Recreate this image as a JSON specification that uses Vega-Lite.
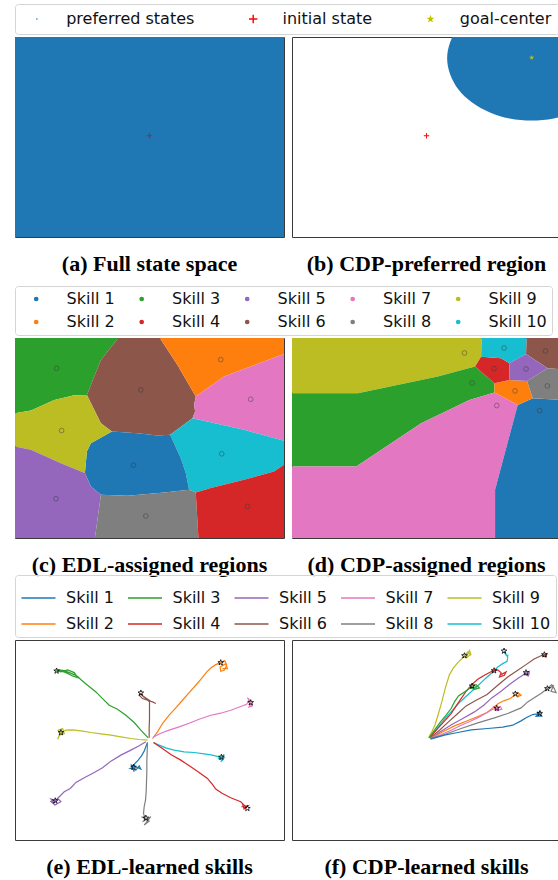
{
"$schema": "https://vega.github.io/schema/vega-lite/v6.json",
"padding": {"left": 14, "top": 3, "right": 0, "bottom": 0},
"background": "white",
"config": {
  "view": {"stroke": "#3a3a3a", "strokeWidth": 1},
  "legend": {"orient": "top", "labelFont": "DejaVu Sans", "labelFontSize": 16, "labelColor": "#111111", "strokeColor": "#d4d4d4", "cornerRadius": 3, "offset": 2},
  "title": {"orient": "bottom", "font": "Liberation Serif", "fontSize": 22, "fontWeight": "bold", "color": "black", "offset": 17, "anchor": "middle"}
},
"resolve": {"scale": {"color": "independent", "shape": "independent"}, "legend": {"color": "independent", "shape": "independent"}},
"spacing": 9,
"datasets": {
  "region_a": [{"x":12,"y":14},{"x":820,"y":14},{"x":820,"y":615},{"x":12,"y":615}],
  "marks_a": [{"kind":"initial state","x":416,"y":311}],
  "region_b": [{"x":986,"y":78},{"x":977,"y":126},{"x":952,"y":172},{"x":912,"y":210},{"x":859,"y":240},{"x":798,"y":259},{"x":732,"y":265},{"x":666,"y":259},{"x":605,"y":240},{"x":552,"y":210},{"x":512,"y":172},{"x":487,"y":126},{"x":478,"y":78},{"x":487,"y":30},{"x":512,"y":-16},{"x":552,"y":-54},{"x":605,"y":-84},{"x":666,"y":-103},{"x":732,"y":-109},{"x":798,"y":-103},{"x":859,"y":-84},{"x":912,"y":-54},{"x":952,"y":-16},{"x":977,"y":30}],
  "marks_b": [{"kind":"initial state","x":416,"y":311},{"kind":"goal-center","x":732,"y":76}],
  "voronoi_c": [
    {"skill":"Skill 3","x":12,"y":14},{"skill":"Skill 3","x":322,"y":14},{"skill":"Skill 3","x":270,"y":80},{"skill":"Skill 3","x":250,"y":130},{"skill":"Skill 3","x":228,"y":185},{"skill":"Skill 3","x":190,"y":186},{"skill":"Skill 3","x":130,"y":200},{"skill":"Skill 3","x":60,"y":232},{"skill":"Skill 3","x":12,"y":240},
    {"skill":"Skill 6","x":322,"y":14},{"skill":"Skill 6","x":447,"y":14},{"skill":"Skill 6","x":500,"y":95},{"skill":"Skill 6","x":555,"y":190},{"skill":"Skill 6","x":550,"y":215},{"skill":"Skill 6","x":553,"y":235},{"skill":"Skill 6","x":545,"y":255},{"skill":"Skill 6","x":478,"y":305},{"skill":"Skill 6","x":440,"y":307},{"skill":"Skill 6","x":380,"y":300},{"skill":"Skill 6","x":303,"y":295},{"skill":"Skill 6","x":270,"y":270},{"skill":"Skill 6","x":228,"y":185},{"skill":"Skill 6","x":250,"y":130},{"skill":"Skill 6","x":270,"y":80},
    {"skill":"Skill 2","x":447,"y":14},{"skill":"Skill 2","x":820,"y":14},{"skill":"Skill 2","x":820,"y":62},{"skill":"Skill 2","x":720,"y":100},{"skill":"Skill 2","x":640,"y":130},{"skill":"Skill 2","x":555,"y":190},{"skill":"Skill 2","x":500,"y":95},
    {"skill":"Skill 7","x":555,"y":190},{"skill":"Skill 7","x":640,"y":130},{"skill":"Skill 7","x":720,"y":100},{"skill":"Skill 7","x":820,"y":62},{"skill":"Skill 7","x":820,"y":323},{"skill":"Skill 7","x":700,"y":290},{"skill":"Skill 7","x":545,"y":255},{"skill":"Skill 7","x":553,"y":235},{"skill":"Skill 7","x":550,"y":215},
    {"skill":"Skill 10","x":545,"y":255},{"skill":"Skill 10","x":700,"y":290},{"skill":"Skill 10","x":820,"y":323},{"skill":"Skill 10","x":820,"y":395},{"skill":"Skill 10","x":790,"y":415},{"skill":"Skill 10","x":700,"y":440},{"skill":"Skill 10","x":600,"y":465},{"skill":"Skill 10","x":555,"y":478},{"skill":"Skill 10","x":535,"y":470},{"skill":"Skill 10","x":525,"y":420},{"skill":"Skill 10","x":510,"y":375},{"skill":"Skill 10","x":478,"y":305},
    {"skill":"Skill 1","x":303,"y":295},{"skill":"Skill 1","x":380,"y":300},{"skill":"Skill 1","x":440,"y":307},{"skill":"Skill 1","x":478,"y":305},{"skill":"Skill 1","x":510,"y":375},{"skill":"Skill 1","x":525,"y":420},{"skill":"Skill 1","x":535,"y":470},{"skill":"Skill 1","x":460,"y":478},{"skill":"Skill 1","x":350,"y":488},{"skill":"Skill 1","x":270,"y":485},{"skill":"Skill 1","x":240,"y":460},{"skill":"Skill 1","x":222,"y":420},{"skill":"Skill 1","x":228,"y":355},{"skill":"Skill 1","x":240,"y":330},
    {"skill":"Skill 9","x":12,"y":240},{"skill":"Skill 9","x":60,"y":232},{"skill":"Skill 9","x":130,"y":200},{"skill":"Skill 9","x":190,"y":186},{"skill":"Skill 9","x":228,"y":185},{"skill":"Skill 9","x":270,"y":270},{"skill":"Skill 9","x":303,"y":295},{"skill":"Skill 9","x":240,"y":330},{"skill":"Skill 9","x":228,"y":355},{"skill":"Skill 9","x":222,"y":420},{"skill":"Skill 9","x":150,"y":390},{"skill":"Skill 9","x":60,"y":350},{"skill":"Skill 9","x":12,"y":340},
    {"skill":"Skill 5","x":12,"y":340},{"skill":"Skill 5","x":60,"y":350},{"skill":"Skill 5","x":150,"y":390},{"skill":"Skill 5","x":222,"y":420},{"skill":"Skill 5","x":240,"y":460},{"skill":"Skill 5","x":270,"y":485},{"skill":"Skill 5","x":252,"y":615},{"skill":"Skill 5","x":12,"y":615},
    {"skill":"Skill 8","x":270,"y":485},{"skill":"Skill 8","x":350,"y":488},{"skill":"Skill 8","x":460,"y":478},{"skill":"Skill 8","x":535,"y":470},{"skill":"Skill 8","x":555,"y":478},{"skill":"Skill 8","x":563,"y":615},{"skill":"Skill 8","x":252,"y":615},
    {"skill":"Skill 4","x":555,"y":478},{"skill":"Skill 4","x":600,"y":465},{"skill":"Skill 4","x":700,"y":440},{"skill":"Skill 4","x":790,"y":415},{"skill":"Skill 4","x":820,"y":395},{"skill":"Skill 4","x":820,"y":615},{"skill":"Skill 4","x":563,"y":615}
  ],
  "centers_c": [{"skill":"Skill 1","x":368,"y":396},{"skill":"Skill 2","x":630,"y":79},{"skill":"Skill 3","x":137,"y":105},{"skill":"Skill 4","x":710,"y":520},{"skill":"Skill 5","x":135,"y":497},{"skill":"Skill 6","x":390,"y":170},{"skill":"Skill 7","x":720,"y":198},{"skill":"Skill 8","x":405,"y":549},{"skill":"Skill 9","x":152,"y":292},{"skill":"Skill 10","x":633,"y":362}],
  "voronoi_d": [
    {"skill":"Skill 9","x":12,"y":14},{"skill":"Skill 9","x":582,"y":14},{"skill":"Skill 9","x":580,"y":70},{"skill":"Skill 9","x":562,"y":100},{"skill":"Skill 9","x":450,"y":130},{"skill":"Skill 9","x":210,"y":180},{"skill":"Skill 9","x":12,"y":180},
    {"skill":"Skill 3","x":12,"y":180},{"skill":"Skill 3","x":210,"y":180},{"skill":"Skill 3","x":450,"y":130},{"skill":"Skill 3","x":562,"y":100},{"skill":"Skill 3","x":620,"y":150},{"skill":"Skill 3","x":620,"y":178},{"skill":"Skill 3","x":545,"y":200},{"skill":"Skill 3","x":400,"y":270},{"skill":"Skill 3","x":205,"y":400},{"skill":"Skill 3","x":12,"y":400},
    {"skill":"Skill 7","x":12,"y":400},{"skill":"Skill 7","x":205,"y":400},{"skill":"Skill 7","x":400,"y":270},{"skill":"Skill 7","x":545,"y":200},{"skill":"Skill 7","x":620,"y":178},{"skill":"Skill 7","x":690,"y":215},{"skill":"Skill 7","x":622,"y":470},{"skill":"Skill 7","x":622,"y":615},{"skill":"Skill 7","x":12,"y":615},
    {"skill":"Skill 1","x":690,"y":215},{"skill":"Skill 1","x":735,"y":195},{"skill":"Skill 1","x":820,"y":200},{"skill":"Skill 1","x":820,"y":615},{"skill":"Skill 1","x":622,"y":615},{"skill":"Skill 1","x":622,"y":470},
    {"skill":"Skill 2","x":620,"y":150},{"skill":"Skill 2","x":665,"y":140},{"skill":"Skill 2","x":718,"y":143},{"skill":"Skill 2","x":735,"y":195},{"skill":"Skill 2","x":690,"y":215},{"skill":"Skill 2","x":620,"y":178},
    {"skill":"Skill 4","x":562,"y":100},{"skill":"Skill 4","x":580,"y":70},{"skill":"Skill 4","x":640,"y":75},{"skill":"Skill 4","x":665,"y":90},{"skill":"Skill 4","x":665,"y":140},{"skill":"Skill 4","x":620,"y":150},
    {"skill":"Skill 10","x":582,"y":14},{"skill":"Skill 10","x":717,"y":14},{"skill":"Skill 10","x":715,"y":62},{"skill":"Skill 10","x":665,"y":90},{"skill":"Skill 10","x":640,"y":75},{"skill":"Skill 10","x":580,"y":70},
    {"skill":"Skill 6","x":717,"y":14},{"skill":"Skill 6","x":820,"y":14},{"skill":"Skill 6","x":820,"y":108},{"skill":"Skill 6","x":780,"y":105},{"skill":"Skill 6","x":715,"y":62},
    {"skill":"Skill 5","x":665,"y":90},{"skill":"Skill 5","x":715,"y":62},{"skill":"Skill 5","x":780,"y":105},{"skill":"Skill 5","x":718,"y":143},{"skill":"Skill 5","x":665,"y":140},
    {"skill":"Skill 8","x":780,"y":105},{"skill":"Skill 8","x":820,"y":108},{"skill":"Skill 8","x":820,"y":200},{"skill":"Skill 8","x":735,"y":195},{"skill":"Skill 8","x":718,"y":143}
  ],
  "centers_d": [{"skill":"Skill 9","x":530,"y":59},{"skill":"Skill 10","x":649,"y":44},{"skill":"Skill 6","x":773,"y":53},{"skill":"Skill 4","x":619,"y":106},{"skill":"Skill 5","x":715,"y":107},{"skill":"Skill 3","x":553,"y":149},{"skill":"Skill 2","x":682,"y":173},{"skill":"Skill 8","x":779,"y":158},{"skill":"Skill 7","x":627,"y":217},{"skill":"Skill 1","x":756,"y":232}],
  "paths_e": [
    {"skill":"Skill 3","x":412,"y":308},{"skill":"Skill 3","x":390,"y":285},{"skill":"Skill 3","x":370,"y":262},{"skill":"Skill 3","x":345,"y":240},{"skill":"Skill 3","x":320,"y":222},{"skill":"Skill 3","x":295,"y":210},{"skill":"Skill 3","x":275,"y":190},{"skill":"Skill 3","x":255,"y":170},{"skill":"Skill 3","x":230,"y":150},{"skill":"Skill 3","x":212,"y":135},{"skill":"Skill 3","x":200,"y":124},{"skill":"Skill 3","x":190,"y":118},{"skill":"Skill 3","x":175,"y":112},{"skill":"Skill 3","x":160,"y":106},{"skill":"Skill 3","x":145,"y":104},{"skill":"Skill 3","x":137,"y":107},{"skill":"Skill 3","x":150,"y":110},{"skill":"Skill 3","x":170,"y":104},{"skill":"Skill 3","x":190,"y":112},{"skill":"Skill 3","x":200,"y":127},{"skill":"Skill 3","x":185,"y":122},{"skill":"Skill 3","x":165,"y":112},{"skill":"Skill 3","x":148,"y":106},
    {"skill":"Skill 6","x":415,"y":308},{"skill":"Skill 6","x":415,"y":280},{"skill":"Skill 6","x":416,"y":250},{"skill":"Skill 6","x":416,"y":220},{"skill":"Skill 6","x":416,"y":200},{"skill":"Skill 6","x":408,"y":192},{"skill":"Skill 6","x":398,"y":185},{"skill":"Skill 6","x":390,"y":175},{"skill":"Skill 6","x":385,"y":180},{"skill":"Skill 6","x":395,"y":190},{"skill":"Skill 6","x":410,"y":195},{"skill":"Skill 6","x":425,"y":200},{"skill":"Skill 6","x":435,"y":205},{"skill":"Skill 6","x":420,"y":198},{"skill":"Skill 6","x":405,"y":188},{"skill":"Skill 6","x":390,"y":178},
    {"skill":"Skill 2","x":425,"y":310},{"skill":"Skill 2","x":440,"y":290},{"skill":"Skill 2","x":455,"y":265},{"skill":"Skill 2","x":475,"y":240},{"skill":"Skill 2","x":495,"y":218},{"skill":"Skill 2","x":515,"y":195},{"skill":"Skill 2","x":535,"y":172},{"skill":"Skill 2","x":555,"y":150},{"skill":"Skill 2","x":572,"y":130},{"skill":"Skill 2","x":588,"y":110},{"skill":"Skill 2","x":600,"y":98},{"skill":"Skill 2","x":615,"y":88},{"skill":"Skill 2","x":630,"y":82},{"skill":"Skill 2","x":642,"y":76},{"skill":"Skill 2","x":648,"y":90},{"skill":"Skill 2","x":640,"y":105},{"skill":"Skill 2","x":630,"y":108},{"skill":"Skill 2","x":628,"y":95},{"skill":"Skill 2","x":645,"y":85},{"skill":"Skill 2","x":650,"y":100},{"skill":"Skill 2","x":635,"y":100},
    {"skill":"Skill 7","x":428,"y":305},{"skill":"Skill 7","x":450,"y":294},{"skill":"Skill 7","x":475,"y":285},{"skill":"Skill 7","x":505,"y":275},{"skill":"Skill 7","x":535,"y":264},{"skill":"Skill 7","x":565,"y":252},{"skill":"Skill 7","x":600,"y":240},{"skill":"Skill 7","x":630,"y":234},{"skill":"Skill 7","x":660,"y":225},{"skill":"Skill 7","x":690,"y":214},{"skill":"Skill 7","x":708,"y":207},{"skill":"Skill 7","x":715,"y":192},{"skill":"Skill 7","x":710,"y":188},{"skill":"Skill 7","x":720,"y":200},{"skill":"Skill 7","x":725,"y":212},{"skill":"Skill 7","x":715,"y":215},{"skill":"Skill 7","x":722,"y":203},
    {"skill":"Skill 9","x":410,"y":315},{"skill":"Skill 9","x":385,"y":313},{"skill":"Skill 9","x":360,"y":310},{"skill":"Skill 9","x":330,"y":305},{"skill":"Skill 9","x":300,"y":300},{"skill":"Skill 9","x":270,"y":296},{"skill":"Skill 9","x":240,"y":292},{"skill":"Skill 9","x":210,"y":287},{"skill":"Skill 9","x":185,"y":284},{"skill":"Skill 9","x":165,"y":285},{"skill":"Skill 9","x":150,"y":292},{"skill":"Skill 9","x":142,"y":285},{"skill":"Skill 9","x":155,"y":280},{"skill":"Skill 9","x":160,"y":295},{"skill":"Skill 9","x":145,"y":300},{"skill":"Skill 9","x":140,"y":312},{"skill":"Skill 9","x":148,"y":296},
    {"skill":"Skill 10","x":428,"y":322},{"skill":"Skill 10","x":445,"y":330},{"skill":"Skill 10","x":465,"y":338},{"skill":"Skill 10","x":490,"y":345},{"skill":"Skill 10","x":520,"y":350},{"skill":"Skill 10","x":550,"y":352},{"skill":"Skill 10","x":580,"y":356},{"skill":"Skill 10","x":605,"y":360},{"skill":"Skill 10","x":625,"y":365},{"skill":"Skill 10","x":632,"y":366},{"skill":"Skill 10","x":640,"y":358},{"skill":"Skill 10","x":635,"y":375},{"skill":"Skill 10","x":622,"y":370},{"skill":"Skill 10","x":640,"y":368},{"skill":"Skill 10","x":630,"y":380},
    {"skill":"Skill 1","x":410,"y":322},{"skill":"Skill 1","x":405,"y":335},{"skill":"Skill 1","x":400,"y":348},{"skill":"Skill 1","x":392,"y":362},{"skill":"Skill 1","x":382,"y":375},{"skill":"Skill 1","x":372,"y":385},{"skill":"Skill 1","x":368,"y":396},{"skill":"Skill 1","x":358,"y":400},{"skill":"Skill 1","x":375,"y":405},{"skill":"Skill 1","x":385,"y":392},{"skill":"Skill 1","x":390,"y":402},{"skill":"Skill 1","x":362,"y":390},{"skill":"Skill 1","x":370,"y":410},
    {"skill":"Skill 5","x":405,"y":320},{"skill":"Skill 5","x":385,"y":332},{"skill":"Skill 5","x":360,"y":345},{"skill":"Skill 5","x":330,"y":360},{"skill":"Skill 5","x":300,"y":378},{"skill":"Skill 5","x":275,"y":398},{"skill":"Skill 5","x":250,"y":412},{"skill":"Skill 5","x":220,"y":428},{"skill":"Skill 5","x":195,"y":442},{"skill":"Skill 5","x":178,"y":460},{"skill":"Skill 5","x":160,"y":470},{"skill":"Skill 5","x":145,"y":485},{"skill":"Skill 5","x":133,"y":497},{"skill":"Skill 5","x":120,"y":492},{"skill":"Skill 5","x":128,"y":505},{"skill":"Skill 5","x":140,"y":490},{"skill":"Skill 5","x":150,"y":500},{"skill":"Skill 5","x":132,"y":510},{"skill":"Skill 5","x":118,"y":498},
    {"skill":"Skill 8","x":410,"y":322},{"skill":"Skill 8","x":409,"y":350},{"skill":"Skill 8","x":408,"y":380},{"skill":"Skill 8","x":408,"y":410},{"skill":"Skill 8","x":407,"y":440},{"skill":"Skill 8","x":406,"y":470},{"skill":"Skill 8","x":404,"y":495},{"skill":"Skill 8","x":400,"y":515},{"skill":"Skill 8","x":398,"y":535},{"skill":"Skill 8","x":403,"y":550},{"skill":"Skill 8","x":392,"y":545},{"skill":"Skill 8","x":415,"y":558},{"skill":"Skill 8","x":400,"y":570},{"skill":"Skill 8","x":420,"y":545},{"skill":"Skill 8","x":395,"y":560},
    {"skill":"Skill 4","x":428,"y":322},{"skill":"Skill 4","x":455,"y":340},{"skill":"Skill 4","x":480,"y":358},{"skill":"Skill 4","x":510,"y":375},{"skill":"Skill 4","x":540,"y":395},{"skill":"Skill 4","x":565,"y":412},{"skill":"Skill 4","x":590,"y":430},{"skill":"Skill 4","x":605,"y":448},{"skill":"Skill 4","x":615,"y":462},{"skill":"Skill 4","x":635,"y":475},{"skill":"Skill 4","x":660,"y":488},{"skill":"Skill 4","x":690,"y":500},{"skill":"Skill 4","x":700,"y":510},{"skill":"Skill 4","x":708,"y":518},{"skill":"Skill 4","x":695,"y":505},{"skill":"Skill 4","x":700,"y":522},{"skill":"Skill 4","x":712,"y":512},{"skill":"Skill 4","x":692,"y":515}
  ],
  "goals_e": [{"skill":"Skill 3","x":137,"y":107},{"skill":"Skill 6","x":390,"y":173},{"skill":"Skill 2","x":630,"y":82},{"skill":"Skill 7","x":720,"y":202},{"skill":"Skill 9","x":150,"y":292},{"skill":"Skill 10","x":632,"y":366},{"skill":"Skill 1","x":368,"y":396},{"skill":"Skill 5","x":133,"y":497},{"skill":"Skill 8","x":405,"y":549},{"skill":"Skill 4","x":710,"y":520}],
  "paths_f": [
    {"skill":"Skill 9","x":422,"y":308},{"skill":"Skill 9","x":432,"y":290},{"skill":"Skill 9","x":442,"y":268},{"skill":"Skill 9","x":452,"y":235},{"skill":"Skill 9","x":462,"y":200},{"skill":"Skill 9","x":472,"y":160},{"skill":"Skill 9","x":485,"y":118},{"skill":"Skill 9","x":497,"y":98},{"skill":"Skill 9","x":510,"y":82},{"skill":"Skill 9","x":522,"y":70},{"skill":"Skill 9","x":530,"y":61},{"skill":"Skill 9","x":540,"y":50},{"skill":"Skill 9","x":548,"y":58},{"skill":"Skill 9","x":535,"y":68},{"skill":"Skill 9","x":545,"y":45},{"skill":"Skill 9","x":550,"y":60},
    {"skill":"Skill 10","x":426,"y":308},{"skill":"Skill 10","x":448,"y":280},{"skill":"Skill 10","x":470,"y":252},{"skill":"Skill 10","x":492,"y":228},{"skill":"Skill 10","x":512,"y":205},{"skill":"Skill 10","x":532,"y":186},{"skill":"Skill 10","x":552,"y":168},{"skill":"Skill 10","x":572,"y":150},{"skill":"Skill 10","x":595,"y":128},{"skill":"Skill 10","x":615,"y":110},{"skill":"Skill 10","x":630,"y":95},{"skill":"Skill 10","x":645,"y":85},{"skill":"Skill 10","x":658,"y":78},{"skill":"Skill 10","x":660,"y":65},{"skill":"Skill 10","x":652,"y":55},{"skill":"Skill 10","x":649,"y":47},{"skill":"Skill 10","x":658,"y":62},{"skill":"Skill 10","x":662,"y":58},
    {"skill":"Skill 4","x":426,"y":308},{"skill":"Skill 4","x":448,"y":282},{"skill":"Skill 4","x":470,"y":258},{"skill":"Skill 4","x":490,"y":235},{"skill":"Skill 4","x":505,"y":212},{"skill":"Skill 4","x":520,"y":190},{"skill":"Skill 4","x":535,"y":168},{"skill":"Skill 4","x":552,"y":148},{"skill":"Skill 4","x":570,"y":132},{"skill":"Skill 4","x":590,"y":120},{"skill":"Skill 4","x":608,"y":110},{"skill":"Skill 4","x":619,"y":106},{"skill":"Skill 4","x":630,"y":104},{"skill":"Skill 4","x":640,"y":112},{"skill":"Skill 4","x":635,"y":125},{"skill":"Skill 4","x":650,"y":120},{"skill":"Skill 4","x":655,"y":110},{"skill":"Skill 4","x":640,"y":118},
    {"skill":"Skill 3","x":424,"y":308},{"skill":"Skill 3","x":440,"y":285},{"skill":"Skill 3","x":458,"y":260},{"skill":"Skill 3","x":475,"y":240},{"skill":"Skill 3","x":490,"y":220},{"skill":"Skill 3","x":500,"y":200},{"skill":"Skill 3","x":512,"y":182},{"skill":"Skill 3","x":530,"y":170},{"skill":"Skill 3","x":545,"y":160},{"skill":"Skill 3","x":553,"y":152},{"skill":"Skill 3","x":565,"y":148},{"skill":"Skill 3","x":575,"y":158},{"skill":"Skill 3","x":560,"y":162},{"skill":"Skill 3","x":548,"y":158},{"skill":"Skill 3","x":568,"y":154},
    {"skill":"Skill 6","x":428,"y":308},{"skill":"Skill 6","x":455,"y":285},{"skill":"Skill 6","x":482,"y":260},{"skill":"Skill 6","x":510,"y":235},{"skill":"Skill 6","x":535,"y":212},{"skill":"Skill 6","x":565,"y":195},{"skill":"Skill 6","x":598,"y":178},{"skill":"Skill 6","x":630,"y":150},{"skill":"Skill 6","x":660,"y":125},{"skill":"Skill 6","x":690,"y":105},{"skill":"Skill 6","x":715,"y":88},{"skill":"Skill 6","x":738,"y":72},{"skill":"Skill 6","x":758,"y":62},{"skill":"Skill 6","x":770,"y":58},{"skill":"Skill 6","x":778,"y":55},{"skill":"Skill 6","x":775,"y":65},{"skill":"Skill 6","x":765,"y":62},
    {"skill":"Skill 5","x":428,"y":310},{"skill":"Skill 5","x":460,"y":288},{"skill":"Skill 5","x":492,"y":268},{"skill":"Skill 5","x":525,"y":250},{"skill":"Skill 5","x":560,"y":230},{"skill":"Skill 5","x":588,"y":210},{"skill":"Skill 5","x":612,"y":188},{"skill":"Skill 5","x":640,"y":168},{"skill":"Skill 5","x":665,"y":148},{"skill":"Skill 5","x":690,"y":130},{"skill":"Skill 5","x":705,"y":120},{"skill":"Skill 5","x":716,"y":110},{"skill":"Skill 5","x":725,"y":108},{"skill":"Skill 5","x":722,"y":122},{"skill":"Skill 5","x":712,"y":118},{"skill":"Skill 5","x":726,"y":116},
    {"skill":"Skill 2","x":428,"y":310},{"skill":"Skill 2","x":465,"y":290},{"skill":"Skill 2","x":500,"y":272},{"skill":"Skill 2","x":535,"y":258},{"skill":"Skill 2","x":565,"y":246},{"skill":"Skill 2","x":598,"y":232},{"skill":"Skill 2","x":615,"y":218},{"skill":"Skill 2","x":632,"y":205},{"skill":"Skill 2","x":650,"y":196},{"skill":"Skill 2","x":668,"y":190},{"skill":"Skill 2","x":683,"y":178},{"skill":"Skill 2","x":690,"y":172},{"skill":"Skill 2","x":700,"y":180},{"skill":"Skill 2","x":688,"y":186},{"skill":"Skill 2","x":696,"y":176},
    {"skill":"Skill 7","x":428,"y":310},{"skill":"Skill 7","x":460,"y":298},{"skill":"Skill 7","x":490,"y":285},{"skill":"Skill 7","x":520,"y":270},{"skill":"Skill 7","x":548,"y":258},{"skill":"Skill 7","x":575,"y":245},{"skill":"Skill 7","x":598,"y":232},{"skill":"Skill 7","x":615,"y":222},{"skill":"Skill 7","x":627,"y":219},{"skill":"Skill 7","x":638,"y":214},{"skill":"Skill 7","x":642,"y":222},{"skill":"Skill 7","x":625,"y":226},{"skill":"Skill 7","x":618,"y":215},{"skill":"Skill 7","x":635,"y":222},
    {"skill":"Skill 8","x":428,"y":310},{"skill":"Skill 8","x":470,"y":298},{"skill":"Skill 8","x":520,"y":280},{"skill":"Skill 8","x":570,"y":263},{"skill":"Skill 8","x":620,"y":248},{"skill":"Skill 8","x":660,"y":235},{"skill":"Skill 8","x":700,"y":218},{"skill":"Skill 8","x":720,"y":200},{"skill":"Skill 8","x":742,"y":186},{"skill":"Skill 8","x":760,"y":175},{"skill":"Skill 8","x":779,"y":160},{"skill":"Skill 8","x":792,"y":148},{"skill":"Skill 8","x":800,"y":160},{"skill":"Skill 8","x":805,"y":172},{"skill":"Skill 8","x":790,"y":168},{"skill":"Skill 8","x":798,"y":150},{"skill":"Skill 8","x":785,"y":160},
    {"skill":"Skill 1","x":428,"y":312},{"skill":"Skill 1","x":470,"y":300},{"skill":"Skill 1","x":510,"y":292},{"skill":"Skill 1","x":550,"y":284},{"skill":"Skill 1","x":600,"y":280},{"skill":"Skill 1","x":645,"y":276},{"skill":"Skill 1","x":675,"y":270},{"skill":"Skill 1","x":700,"y":257},{"skill":"Skill 1","x":718,"y":246},{"skill":"Skill 1","x":735,"y":238},{"skill":"Skill 1","x":756,"y":235},{"skill":"Skill 1","x":748,"y":230},{"skill":"Skill 1","x":762,"y":242},{"skill":"Skill 1","x":745,"y":243},{"skill":"Skill 1","x":760,"y":226}
  ],
  "goals_f": [{"skill":"Skill 9","x":530,"y":61},{"skill":"Skill 10","x":649,"y":47},{"skill":"Skill 4","x":619,"y":106},{"skill":"Skill 3","x":553,"y":152},{"skill":"Skill 6","x":770,"y":58},{"skill":"Skill 5","x":715,"y":112},{"skill":"Skill 2","x":683,"y":176},{"skill":"Skill 7","x":627,"y":219},{"skill":"Skill 8","x":779,"y":160},{"skill":"Skill 1","x":756,"y":235}]
},
"vconcat": [
  {
    "spacing": 6,
    "hconcat": [
      {
        "width": 269, "height": 200,
        "title": "(a) Full state space",
        "layer": [
          {"data": {"name": "region_a"}, "mark": {"type": "line", "filled": true, "fill": "#1f77b4", "clip": true},
           "encoding": {"x": {"field": "x", "type": "quantitative", "scale": {"domain": [12, 820], "nice": false, "zero": false}, "axis": null},
                        "y": {"field": "y", "type": "quantitative", "scale": {"domain": [14, 615], "nice": false, "zero": false, "reverse": true}, "axis": null},
                        "order": {"value": null}}},
          {"data": {"name": "marks_a"}, "mark": {"type": "point", "filled": true, "size": 30, "opacity": 1},
           "encoding": {"x": {"field": "x", "type": "quantitative"}, "y": {"field": "y", "type": "quantitative"},
             "color": {"field": "kind", "type": "nominal", "scale": {"domain": ["preferred states", "initial state", "goal-center"], "range": ["#1f77b4", "#ff0000", "#bfbf00"]},
                       "legend": {"title": null, "direction": "horizontal", "symbolSize": 70, "symbolOffset": 6.9, "labelOffset": 21.3, "columnPadding": 43.3, "padding": 7}},
             "shape": {"field": "kind", "type": "nominal", "scale": {"domain": ["preferred states", "initial state", "goal-center"], "range": ["M0.2,0A0.2,0.2,0,1,1,-0.2,0A0.2,0.2,0,1,1,0.2,0Z", "M-1,-0.17L1,-0.17L1,0.17L-1,0.17Z M-0.17,-1L0.17,-1L0.17,1L-0.17,1Z", "M0,-1L0.235,-0.324L0.951,-0.309L0.38,0.124L0.588,0.809L0,0.4L-0.588,0.809L-0.38,0.124L-0.951,-0.309L-0.235,-0.324Z"]},
                       "legend": {"title": null, "direction": "horizontal", "symbolSize": 70, "symbolOffset": 6.9, "labelOffset": 21.3, "columnPadding": 43.3, "padding": 7}}}}
        ]
      },
      {
        "width": 269, "height": 200,
        "title": "(b) CDP-preferred region",
        "layer": [
          {"data": {"name": "region_b"}, "mark": {"type": "line", "filled": true, "fill": "#1f77b4", "clip": true, "interpolate": "cardinal-closed"},
           "encoding": {"x": {"field": "x", "type": "quantitative", "scale": {"domain": [12, 820], "nice": false, "zero": false}, "axis": null},
                        "y": {"field": "y", "type": "quantitative", "scale": {"domain": [14, 615], "nice": false, "zero": false, "reverse": true}, "axis": null},
                        "order": {"value": null}}},
          {"data": {"name": "marks_b"}, "mark": {"type": "point", "filled": true, "size": 30, "opacity": 1},
           "encoding": {"x": {"field": "x", "type": "quantitative"}, "y": {"field": "y", "type": "quantitative"},
             "color": {"field": "kind", "type": "nominal", "scale": {"domain": ["preferred states", "initial state", "goal-center"], "range": ["#1f77b4", "#ff0000", "#bfbf00"]},
                       "legend": {"title": null, "direction": "horizontal", "symbolSize": 70, "symbolOffset": 6.9, "labelOffset": 21.3, "columnPadding": 43.3, "padding": 7}},
             "shape": {"field": "kind", "type": "nominal", "scale": {"domain": ["preferred states", "initial state", "goal-center"], "range": ["M0.2,0A0.2,0.2,0,1,1,-0.2,0A0.2,0.2,0,1,1,0.2,0Z", "M-1,-0.17L1,-0.17L1,0.17L-1,0.17Z M-0.17,-1L0.17,-1L0.17,1L-0.17,1Z", "M0,-1L0.235,-0.324L0.951,-0.309L0.38,0.124L0.588,0.809L0,0.4L-0.588,0.809L-0.38,0.124L-0.951,-0.309L-0.235,-0.324Z"]},
                       "legend": {"title": null, "direction": "horizontal", "symbolSize": 70, "symbolOffset": 6.9, "labelOffset": 21.3, "columnPadding": 43.3, "padding": 7}}}}
        ]
      }
    ]
  },
  {
    "spacing": -3,
    "resolve": {"scale": {"color": "independent"}, "legend": {"color": "independent"}},
    "vconcat": [
      {
        "spacing": 6,
        "hconcat": [
          {
            "width": 269, "height": 200,
            "title": "(c) EDL-assigned regions",
            "layer": [
              {"data": {"name": "voronoi_c"}, "mark": {"type": "line", "filled": true, "clip": true},
               "encoding": {"x": {"field": "x", "type": "quantitative", "scale": {"domain": [12, 820], "nice": false, "zero": false}, "axis": null},
                            "y": {"field": "y", "type": "quantitative", "scale": {"domain": [14, 615], "nice": false, "zero": false, "reverse": true}, "axis": null},
                            "color": {"field": "skill", "type": "nominal", "scale": {"domain": ["Skill 1", "Skill 3", "Skill 5", "Skill 7", "Skill 9", "Skill 2", "Skill 4", "Skill 6", "Skill 8", "Skill 10"], "range": ["#1f77b4", "#2ca02c", "#9467bd", "#e377c2", "#bcbd22", "#ff7f0e", "#d62728", "#8c564b", "#7f7f7f", "#17becf"]},
                                      "legend": {"title": null, "columns": 5, "symbolType": "circle", "symbolSize": 22, "symbolOffset": 8.2, "labelOffset": 22.4, "columnPadding": 10.5, "rowPadding": 7, "padding": 5}},
                            "order": {"value": null}}},
              {"data": {"name": "centers_c"}, "mark": {"type": "point", "filled": false, "size": 22, "stroke": "#333333", "strokeWidth": 0.8, "opacity": 0.55},
               "encoding": {"x": {"field": "x", "type": "quantitative"}, "y": {"field": "y", "type": "quantitative"}}}
            ]
          },
          {
            "width": 269, "height": 200,
            "title": "(d) CDP-assigned regions",
            "layer": [
              {"data": {"name": "voronoi_d"}, "mark": {"type": "line", "filled": true, "clip": true},
               "encoding": {"x": {"field": "x", "type": "quantitative", "scale": {"domain": [12, 820], "nice": false, "zero": false}, "axis": null},
                            "y": {"field": "y", "type": "quantitative", "scale": {"domain": [14, 615], "nice": false, "zero": false, "reverse": true}, "axis": null},
                            "color": {"field": "skill", "type": "nominal", "scale": {"domain": ["Skill 1", "Skill 3", "Skill 5", "Skill 7", "Skill 9", "Skill 2", "Skill 4", "Skill 6", "Skill 8", "Skill 10"], "range": ["#1f77b4", "#2ca02c", "#9467bd", "#e377c2", "#bcbd22", "#ff7f0e", "#d62728", "#8c564b", "#7f7f7f", "#17becf"]},
                                      "legend": {"title": null, "columns": 5, "symbolType": "circle", "symbolSize": 22, "symbolOffset": 8.2, "labelOffset": 22.4, "columnPadding": 10.5, "rowPadding": 7, "padding": 5}},
                            "order": {"value": null}}},
              {"data": {"name": "centers_d"}, "mark": {"type": "point", "filled": false, "size": 22, "stroke": "#333333", "strokeWidth": 0.8, "opacity": 0.55},
               "encoding": {"x": {"field": "x", "type": "quantitative"}, "y": {"field": "y", "type": "quantitative"}}}
            ]
          }
        ]
      },
      {
        "spacing": 6,
        "hconcat": [
          {
            "width": 269, "height": 200,
            "title": "(e) EDL-learned skills",
            "layer": [
              {"data": {"name": "paths_e"}, "mark": {"type": "line", "strokeWidth": 1.2, "clip": true},
               "encoding": {"x": {"field": "x", "type": "quantitative", "scale": {"domain": [12, 820], "nice": false, "zero": false}, "axis": null},
                            "y": {"field": "y", "type": "quantitative", "scale": {"domain": [14, 615], "nice": false, "zero": false, "reverse": true}, "axis": null},
                            "color": {"field": "skill", "type": "nominal", "scale": {"domain": ["Skill 1", "Skill 3", "Skill 5", "Skill 7", "Skill 9", "Skill 2", "Skill 4", "Skill 6", "Skill 8", "Skill 10"], "range": ["#1f77b4", "#2ca02c", "#9467bd", "#e377c2", "#bcbd22", "#ff7f0e", "#d62728", "#8c564b", "#7f7f7f", "#17becf"]},
                                      "legend": {"title": null, "columns": 5, "symbolType": "stroke", "symbolSize": 1156, "symbolStrokeWidth": 1.5, "symbolOffset": 0.5, "labelOffset": 9.5, "columnPadding": 9.5, "rowPadding": -13, "padding": 5}},
                            "order": {"value": null}}},
              {"data": {"name": "goals_e"}, "mark": {"type": "point", "filled": false, "size": 35, "stroke": "#000000", "strokeWidth": 0.8, "opacity": 1, "shape": "M0,-1L0.235,-0.324L0.951,-0.309L0.38,0.124L0.588,0.809L0,0.4L-0.588,0.809L-0.38,0.124L-0.951,-0.309L-0.235,-0.324Z"},
               "encoding": {"x": {"field": "x", "type": "quantitative"}, "y": {"field": "y", "type": "quantitative"}}}
            ]
          },
          {
            "width": 269, "height": 200,
            "title": "(f) CDP-learned skills",
            "layer": [
              {"data": {"name": "paths_f"}, "mark": {"type": "line", "strokeWidth": 1.2, "clip": true},
               "encoding": {"x": {"field": "x", "type": "quantitative", "scale": {"domain": [12, 820], "nice": false, "zero": false}, "axis": null},
                            "y": {"field": "y", "type": "quantitative", "scale": {"domain": [14, 615], "nice": false, "zero": false, "reverse": true}, "axis": null},
                            "color": {"field": "skill", "type": "nominal", "scale": {"domain": ["Skill 1", "Skill 3", "Skill 5", "Skill 7", "Skill 9", "Skill 2", "Skill 4", "Skill 6", "Skill 8", "Skill 10"], "range": ["#1f77b4", "#2ca02c", "#9467bd", "#e377c2", "#bcbd22", "#ff7f0e", "#d62728", "#8c564b", "#7f7f7f", "#17becf"]},
                                      "legend": {"title": null, "columns": 5, "symbolType": "stroke", "symbolSize": 1156, "symbolStrokeWidth": 1.5, "symbolOffset": 0.5, "labelOffset": 9.5, "columnPadding": 9.5, "rowPadding": -13, "padding": 5}},
                            "order": {"value": null}}},
              {"data": {"name": "goals_f"}, "mark": {"type": "point", "filled": false, "size": 35, "stroke": "#000000", "strokeWidth": 0.8, "opacity": 1, "shape": "M0,-1L0.235,-0.324L0.951,-0.309L0.38,0.124L0.588,0.809L0,0.4L-0.588,0.809L-0.38,0.124L-0.951,-0.309L-0.235,-0.324Z"},
               "encoding": {"x": {"field": "x", "type": "quantitative"}, "y": {"field": "y", "type": "quantitative"}}}
            ]
          }
        ]
      }
    ]
  }
]
}
